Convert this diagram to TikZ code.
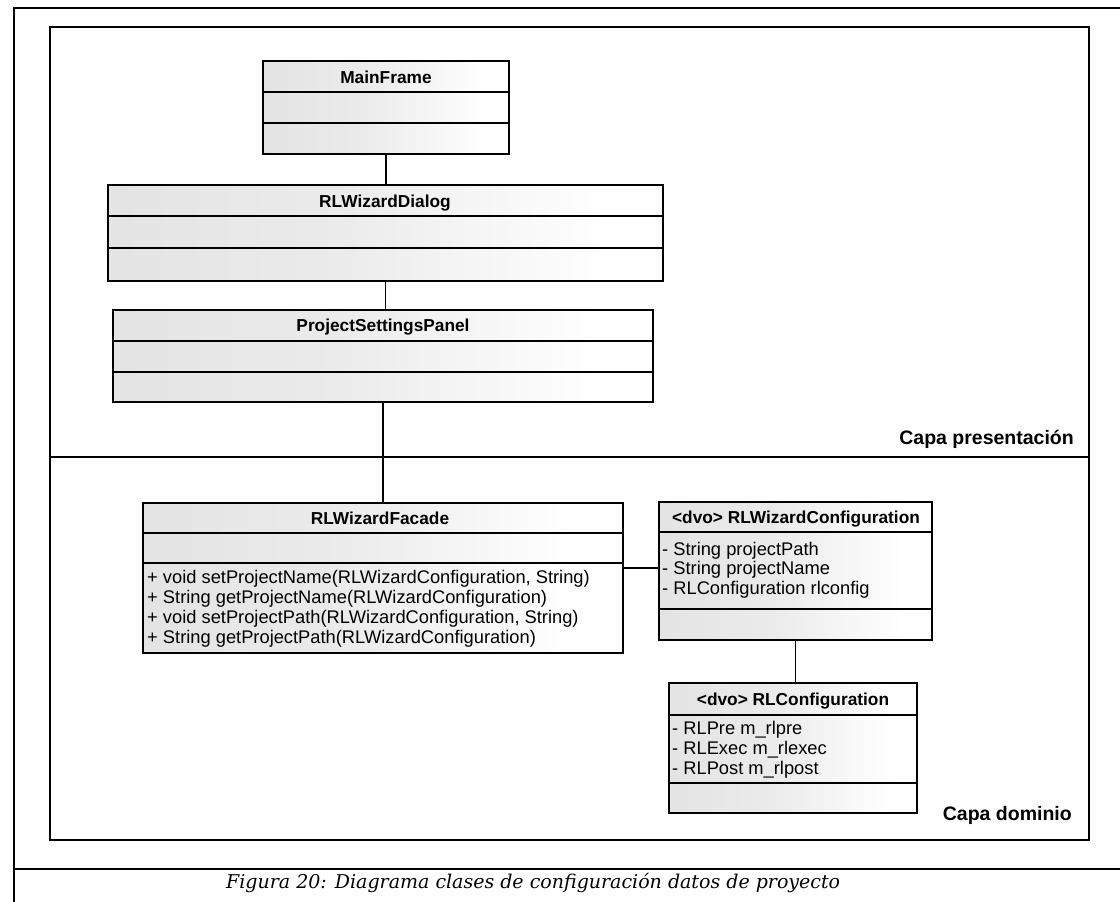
\documentclass[tikz,border=0pt]{standalone}
\usepackage{fontspec}
\setmainfont{Liberation Sans}
\newfontfamily\captionserif{DejaVu Serif}
\usetikzlibrary{fit}

% light stipple-like fill, fading from the left edge of each class box
\pgfdeclarehorizontalshading{stipple}{100bp}{color(0bp)=(black!14); color(45bp)=(black!8); color(70bp)=(white); color(100bp)=(white)}

\tikzset{
  boxframe/.style={draw=black, line width=1.3pt, inner sep=0pt, outer sep=0pt},
  boxline/.style={draw=black, line width=1.2pt},
  assoc/.style={draw=black, line width=1.4pt},
  frameline/.style={draw=black, line width=2.5pt},
  outerline/.style={draw=black, line width=1.6pt},
  classtitle/.style={font=\bfseries\fontsize{17.3}{20}\selectfont, anchor=base, inner sep=0pt},
  member/.style={font=\fontsize{18.3}{20}\selectfont, anchor=base west, inner sep=0pt},
  layerlabel/.style={font=\bfseries\fontsize{19.5}{22}\selectfont, anchor=base east, inner sep=0pt},
}

% #1 name, (#2,#3) top-left, (#4,#5) bottom-right, #6 and #7 compartment separators
\newcommand\umlcls[7]{%
  \shade[shading=stipple] (#2,#3) rectangle (#4,#5);
  \draw[boxline] (#2,#6) -- (#4,#6) (#2,#7) -- (#4,#7);
  \node[boxframe, fit={(#2,#3) (#4,#5)}] (#1) {};
}

\begin{document}
\begin{tikzpicture}[x=1pt, y=-1pt]
  \useasboundingbox (0,0) rectangle (1120,902);

  % page frame and caption rule
  \draw[outerline] (1120,8) -- (14,8) -- (14,902);
  \draw[outerline] (14,869) -- (1120,869);

  % layer frame with the separation between the two layers
  \draw[frameline] (50,27) rectangle (1089,840);
  \draw[frameline] (50,457) -- (1089,457);

  \node[layerlabel] (pres) at (1074,444) {Capa presentación};
  \node[layerlabel] (dom) at (1072,820) {Capa dominio};

  % presentation layer classes
  \umlcls{mf}{263}{61}{509}{154}{92}{123}
  \node[classtitle] (mf-t) at (386,83) {MainFrame};

  \umlcls{dlg}{108}{185}{663}{281}{216}{248}
  \node[classtitle] (dlg-t) at (385,207) {RLWizardDialog};

  \umlcls{psp}{113}{310}{653}{402}{341}{372}
  \node[classtitle] (psp-t) at (383,331) {ProjectSettingsPanel};

  % domain layer classes
  \umlcls{fac}{143}{503}{623}{653}{533}{563}
  \node[classtitle] (fac-t) at (380,524) {RLWizardFacade};
  \node[member] (fac-m1) at (147,583) {+ void setProjectName(RLWizardConfiguration, String)};
  \node[member] (fac-m2) at (147,603) {+ String getProjectName(RLWizardConfiguration)};
  \node[member] (fac-m3) at (147,623) {+ void setProjectPath(RLWizardConfiguration, String)};
  \node[member] (fac-m4) at (147,643) {+ String getProjectPath(RLWizardConfiguration)};

  \umlcls{cfg}{659}{502}{932}{640}{532}{609}
  \node[classtitle] (cfg-t) at (796,523) {\textless dvo\textgreater{} RLWizardConfiguration};
  \node[member] (cfg-a1) at (662,555) {- String projectPath};
  \node[member] (cfg-a2) at (662,574.5) {- String projectName};
  \node[member] (cfg-a3) at (662,594) {- RLConfiguration rlconfig};

  \umlcls{rlc}{669}{683}{917}{813}{715}{783}
  \node[classtitle] (rlc-t) at (793,705) {\textless dvo\textgreater{} RLConfiguration};
  \node[member] (rlc-a1) at (672,734) {- RLPre m\_rlpre};
  \node[member] (rlc-a2) at (672,754) {- RLExec m\_rlexec};
  \node[member] (rlc-a3) at (672,774) {- RLPost m\_rlpost};

  % associations
  \coordinate (link) at (640,568);
  \draw[assoc] (mf.south) -- (mf.south |- dlg.north);
  \draw[assoc] (dlg.south) -- (dlg.south |- psp.north);
  \draw[assoc] (psp.south) -- (psp.south |- fac.north);
  \draw[assoc] (fac.east |- link) -- (cfg.west |- link);
  \draw[assoc] (cfg.south) -- (cfg.south |- rlc.north);

  % figure caption
  \node[font=\captionserif\itshape\fontsize{19}{22}\selectfont, anchor=base west, inner sep=0pt] (cap) at (226,888)
    {Figura 20: Diagrama clases de configuración datos de proyecto};
\end{tikzpicture}
\end{document}
